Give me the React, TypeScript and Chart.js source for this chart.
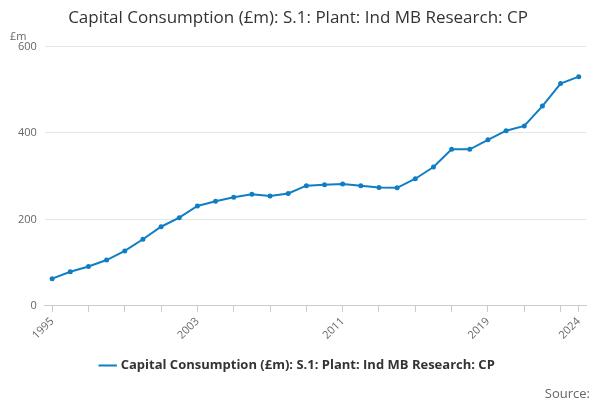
import React, { useEffect, useRef } from "react";
import { Chart, registerables } from "chart.js";
Chart.register(...registerables);

const years = Array.from({ length: 30 }, (_, i) => 1995 + i);
const values = [63, 79, 91, 106, 127, 154, 183, 204, 231, 242, 251, 258, 254, 260, 278, 280, 282, 278, 274, 273, 294, 321, 362, 362, 384, 405, 416, 462, 514, 530];
const tickYears = [1995, 1997, 1999, 2001, 2003, 2005, 2007, 2009, 2011, 2013, 2015, 2017, 2019, 2021, 2023, 2024];
const labelYears = [1995, 2003, 2011, 2019, 2024];
const seriesName = "Capital Consumption (£m): S.1: Plant: Ind MB Research: CP";

export default function App() {
  const ref = useRef<HTMLCanvasElement>(null);
  useEffect(() => {
    const font = "'Open Sans', 'DejaVu Sans', sans-serif";
    const chart = new Chart(ref.current!, {
      type: "line",
      data: {
        datasets: [{
          label: seriesName,
          data: years.map((y, i) => ({ x: y, y: values[i] })),
          borderColor: "#0f7ec4",
          backgroundColor: "#0f7ec4",
          borderWidth: 2,
          pointRadius: 1.5,
          pointHoverRadius: 1.5,
          tension: 0,
        }],
      },
      options: {
        animation: false,
        responsive: false,
        layout: { padding: { left: 10, right: 14, top: 0, bottom: 18 } },
        plugins: {
          title: { display: true, text: seriesName, align: "center", color: "#333", font: { family: font, size: 17, weight: "normal" }, padding: { top: 8, bottom: 18 } },
          legend: { position: "bottom", labels: { usePointStyle: true, pointStyle: "line", color: "#333", font: { family: font, size: 13, weight: "bold" }, padding: 14 } },
          tooltip: { enabled: false },
        },
        scales: {
          x: {
            type: "linear", min: 1994.6, max: 2024.4,
            afterBuildTicks: (s: any) => { s.ticks = tickYears.map((v) => ({ value: v })); },
            grid: { display: true, drawOnChartArea: false, drawTicks: true, tickLength: 6, color: "#ccc" },
            border: { color: "#ccc" },
            ticks: {
              autoSkip: false, maxRotation: 45, minRotation: 45, color: "#666",
              font: { family: font, size: 11 },
              callback: (v: any) => (labelYears.includes(v) ? String(v) : ""),
            },
          },
          y: {
            min: 0, max: 600,
            grid: { color: "#e6e6e6", drawTicks: false },
            border: { display: false },
            ticks: { stepSize: 200, color: "#666", padding: 8, font: { family: font, size: 11 } },
          },
        },
      },
      plugins: [{
        id: "extra",
        afterDraw(c: any) {
          const ctx = c.ctx;
          ctx.save();
          ctx.fillStyle = "#666";
          ctx.font = `11px ${font}`;
          ctx.textAlign = "left";
          ctx.fillText("£m", 10, 37);
          ctx.font = `13px ${font}`;
          ctx.textAlign = "right";
          ctx.fillText("Source:", 590, 394);
          ctx.restore();
        },
      }],
    });
    return () => chart.destroy();
  }, []);
  return <canvas ref={ref} width={600} height={400} style={{ position: "absolute", left: 0, top: 0 }} />;
}
